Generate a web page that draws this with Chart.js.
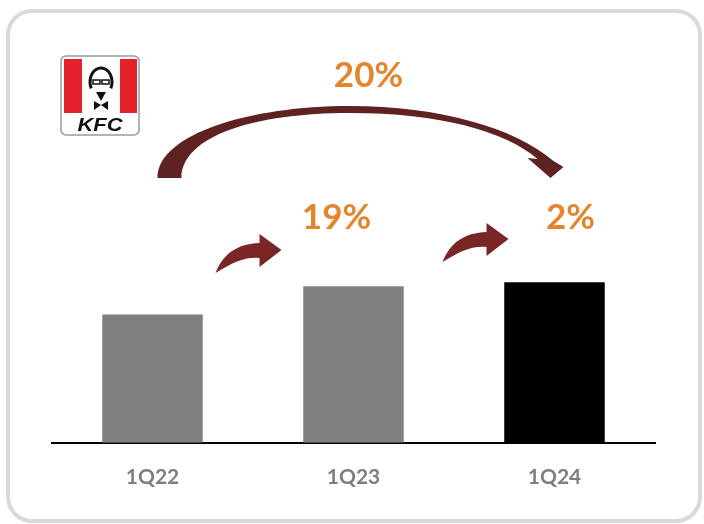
<!DOCTYPE html>
<html>
<head>
<meta charset="utf-8">
<script src="https://cdn.jsdelivr.net/npm/chart.js@4.4.1/dist/chart.umd.min.js"></script>
<style>
  html, body { margin: 0; padding: 0; background: #fff; }
  #wrap { width: 704px; height: 524px; position: relative; }
</style>
</head>
<body>
<div id="wrap"><canvas id="kfc-chart"></canvas></div>
<script>
// KFC sales, indexed to 1Q22 = 100
const quarters = ['1Q22', '1Q23', '1Q24'];
const sales = [100, 122, 125];
const barColors = ['#808080', '#808080', '#000000'];
const stepGrowth = ['19%', '2%'];
const totalGrowth = '20%';

const orange = '#E3852B';
const maroon = '#7B2626';
const darkMaroon = '#5E2222';

function roundRect(ctx, x, y, w, h, r) {
    ctx.beginPath();
    ctx.moveTo(x + r, y);
    ctx.arcTo(x + w, y, x + w, y + h, r);
    ctx.arcTo(x + w, y + h, x, y + h, r);
    ctx.arcTo(x, y + h, x, y, r);
    ctx.arcTo(x, y, x + w, y, r);
    ctx.closePath();
}

function drawLogo(ctx) {
    ctx.save();
    // bucket outline
    roundRect(ctx, 61, 56, 78, 79, 5);
    ctx.fillStyle = '#fff';
    ctx.fill();
    ctx.lineWidth = 1.5;
    ctx.strokeStyle = '#9a9a9a';
    ctx.stroke();
    // red stripes
    ctx.fillStyle = '#E4222B';
    ctx.fillRect(64, 59, 18, 54);
    ctx.fillRect(120, 59, 17, 54);
    // colonel
    ctx.strokeStyle = '#111';
    ctx.lineWidth = 3;
    ctx.beginPath();
    ctx.ellipse(101, 82, 11, 14, 0, Math.PI * 0.85, Math.PI * 2.15);
    ctx.stroke();
    ctx.lineWidth = 1.5;
    ctx.strokeRect(93, 80, 7, 4);
    ctx.strokeRect(102, 80, 7, 4);
    ctx.fillStyle = '#111';
    ctx.beginPath();
    ctx.moveTo(96, 92);
    ctx.lineTo(106, 92);
    ctx.lineTo(101, 101);
    ctx.closePath();
    ctx.fill();
    // bow tie
    ctx.beginPath();
    ctx.moveTo(101, 105);
    ctx.lineTo(94, 101);
    ctx.lineTo(94, 110);
    ctx.closePath();
    ctx.moveTo(101, 105);
    ctx.lineTo(108, 101);
    ctx.lineTo(108, 110);
    ctx.closePath();
    ctx.fill();
    // KFC wordmark
    ctx.translate(100, 131);
    ctx.scale(1.22, 1);
    ctx.font = 'italic bold 18px "Liberation Sans"';
    ctx.textAlign = 'center';
    ctx.textBaseline = 'alphabetic';
    ctx.fillText('KFC', 0, 0);
    ctx.restore();
}

function smallArrow(ctx, x, y) {
    // x, y = tail point
    ctx.beginPath();
    ctx.moveTo(x, y);
    ctx.bezierCurveTo(x + 8, y - 20, x + 22, y - 29, x + 44, y - 30);
    ctx.lineTo(x + 44, y - 39);
    ctx.lineTo(x + 66, y - 23);
    ctx.lineTo(x + 44, y - 6);
    ctx.lineTo(x + 44, y - 15);
    ctx.bezierCurveTo(x + 30, y - 16, x + 20, y - 12, x, y);
    ctx.closePath();
    ctx.fillStyle = maroon;
    ctx.fill();
}

const decorPlugin = {
    id: 'decor',
    beforeDraw(chart) {
        const ctx = chart.ctx;
        ctx.save();
        ctx.fillStyle = '#fff';
        ctx.fillRect(0, 0, chart.width, chart.height);
        roundRect(ctx, 8, 11, 692, 510, 24);
        ctx.lineWidth = 4;
        ctx.strokeStyle = '#DADADA';
        ctx.stroke();
        ctx.restore();
    },
    afterDraw(chart) {
        const ctx = chart.ctx;
        const x = chart.scales.x;
        const c0 = x.getPixelForValue(0);
        const c1 = x.getPixelForValue(1);
        const c2 = x.getPixelForValue(2);
        ctx.save();
        drawLogo(ctx);

        // big arrow 1Q22 -> 1Q24
        const l = c0 + 5, r = c2 - 4;
        ctx.beginPath();
        ctx.moveTo(l, 178);
        ctx.bezierCurveTo(l, 134, 250, 106, c1 - 4, 106);
        ctx.bezierCurveTo(440, 106, 515, 128, r + 3, 161);
        ctx.lineTo(r + 13, 167);
        ctx.lineTo(r, 178);
        ctx.lineTo(r - 23, 158);
        ctx.lineTo(r - 13, 159);
        ctx.bezierCurveTo(505, 131, 440, 113, c1 - 4, 113);
        ctx.bezierCurveTo(255, 113, l + 24, 136, l + 24, 178);
        ctx.closePath();
        ctx.fillStyle = darkMaroon;
        ctx.fill();

        smallArrow(ctx, c0 + 63, 273);
        smallArrow(ctx, c1 + 89, 262);

        ctx.fillStyle = orange;
        ctx.font = 'bold 35px Lato';
        ctx.textAlign = 'center';
        ctx.textBaseline = 'alphabetic';
        ctx.fillText(totalGrowth, c1 + 15, 87);
        ctx.fillText(stepGrowth[0], c1 - 17, 229);
        ctx.fillText(stepGrowth[1], c2 + 16, 229);
        ctx.restore();
    }
};

const ctx = document.getElementById('kfc-chart');

new Chart(ctx, {
    type: 'bar',
    data: {
        labels: quarters,
        datasets: [{
            data: sales,
            backgroundColor: barColors,
            borderWidth: 0,
            categoryPercentage: 1,
            barPercentage: 0.5
        }]
    },
    options: {
        responsive: true,
        maintainAspectRatio: false,
        animation: false,
        layout: { padding: { left: 52, right: 49, top: 100, bottom: 12 } },
        plugins: {
            legend: { display: false },
            tooltip: { enabled: false }
        },
        scales: {
            x: {
                grid: { display: false, drawTicks: false },
                border: { display: true, color: '#000', width: 2 },
                ticks: {
                    color: '#7F7F7F',
                    padding: 22,
                    font: { family: 'Lato', size: 21, weight: 'bold' }
                }
            },
            y: {
                display: false,
                min: 0,
                max: 267
            }
        }
    },
    plugins: [decorPlugin]
});
</script>
</body>
</html>
